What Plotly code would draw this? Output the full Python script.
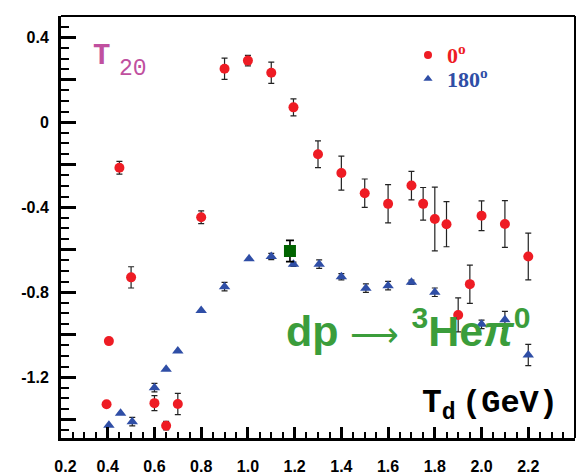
import plotly.graph_objects as go

# ---- data ----
red_x = [0.395, 0.405, 0.45, 0.50, 0.60, 0.65, 0.70, 0.80, 0.90, 1.00, 1.10, 1.195,
         1.30, 1.40, 1.50, 1.60, 1.70, 1.75, 1.80, 1.85, 1.90, 1.95, 2.00, 2.10, 2.20]
red_y = [-1.327, -1.03, -0.214, -0.73, -1.322, -1.428, -1.326, -0.447, 0.252, 0.29, 0.233, 0.07,
         -0.151, -0.239, -0.334, -0.384, -0.298, -0.384, -0.455, -0.48, -0.907, -0.762, -0.44, -0.479, -0.632]
red_err = [0.01, 0.005, 0.03, 0.05, 0.035, 0.02, 0.05, 0.03, 0.05, 0.025, 0.05, 0.04,
           0.063, 0.08, 0.067, 0.09, 0.067, 0.077, 0.15, 0.106, 0.08, 0.09, 0.07, 0.11, 0.11]

blue_x = [0.405, 0.455, 0.505, 0.60, 0.65, 0.70, 0.80, 0.90, 1.005, 1.10, 1.195,
          1.305, 1.40, 1.505, 1.60, 1.70, 1.80, 2.00, 2.10, 2.20]
blue_y = [-1.426, -1.37, -1.409, -1.249, -1.162, -1.076, -0.886, -0.774, -0.643, -0.632, -0.668,
          -0.668, -0.727, -0.781, -0.769, -0.753, -0.80, -0.951, -0.93, -1.095]
blue_err = [0, 0, 0.02, 0.02, 0, 0, 0, 0.02, 0, 0.015, 0.01,
            0.02, 0.015, 0.02, 0.02, 0.01, 0.02, 0.02, 0.04, 0.05]

green_x = [1.18]
green_y = [-0.606]
green_err = [0.05]

x_ticks = [0.2, 0.4, 0.6, 0.8, 1.0, 1.2, 1.4, 1.6, 1.8, 2.0, 2.2]
x_tick_text = ["\u00a0\u00a00.2", "0.4", "0.6", "0.8", "1.0", "1.2", "1.4", "1.6", "1.8", "2.0", "2.2"]
y_ticks = [-1.4, -1.2, -1.0, -0.8, -0.6, -0.4, -0.2, 0.0, 0.2, 0.4]
y_tick_text = ["", "-1.2", "", "-0.8", "", "-0.4", "", "0", "", "0.4"]

legend_labels = ["0<sup>o</sup>", "180<sup>o</sup>"]

RED = "#ee1c24"
BLUE = "#2f4ea6"
GREEN_MK = "#006400"
GREEN_TXT = "#3b9d3b"
MAGENTA = "#c0509f"
ERR = "#222222"

W, H = 577, 476
L, R, T, B = 61, 2, 16, 38

fig = go.Figure()

fig.add_trace(go.Scatter(
    x=blue_x, y=blue_y, mode="markers", showlegend=False,
    marker=dict(symbol="triangle-up", size=10, color=BLUE),
    error_y=dict(type="data", array=blue_err, color=ERR, thickness=1.2, width=3)))
fig.add_trace(go.Scatter(
    x=red_x, y=red_y, mode="markers", showlegend=False,
    marker=dict(symbol="circle", size=10, color=RED),
    error_y=dict(type="data", array=red_err, color=ERR, thickness=1.2, width=3)))
fig.add_trace(go.Scatter(
    x=green_x, y=green_y, mode="markers", showlegend=False,
    marker=dict(symbol="square", size=12, color=GREEN_MK),
    error_y=dict(type="data", array=green_err, color="black", thickness=1.6, width=4)))

# legend symbols (text drawn as annotations)
fig.add_trace(go.Scatter(
    x=[None], y=[None], mode="markers", name=" ",
    marker=dict(symbol="circle", size=8, color=RED)))
fig.add_trace(go.Scatter(
    x=[None], y=[None], mode="markers", name=" ",
    marker=dict(symbol="triangle-up", size=8, color=BLUE)))


def px_x(p):
    return (p - L) / (W - L - R)


def px_y(p):
    return (H - B - p) / (H - T - B)


tickfont = dict(family="Liberation Sans", size=16, color="black", weight="bold")

fig.update_layout(
    width=W, height=H,
    margin=dict(l=L, r=R, t=T, b=B, pad=0),
    paper_bgcolor="white", plot_bgcolor="white",
    showlegend=True,
    legend=dict(x=px_x(408), y=px_y(38), xanchor="left", yanchor="top",
                bgcolor="rgba(0,0,0,0)", borderwidth=0,
                font=dict(family="Liberation Serif", size=16),
                itemwidth=30, tracegroupgap=0),
    xaxis=dict(range=[0.2, 2.4], showgrid=False, zeroline=False,
               showline=True, linewidth=3, linecolor="black",
               tickmode="array", tickvals=x_ticks, ticktext=x_tick_text,
               ticks="inside", ticklen=11, tickwidth=2.5, tickcolor="black",
               ticklabelstandoff=12, tickfont=tickfont,
               minor=dict(tickmode="linear", tick0=0, dtick=0.05, ticks="inside",
                          ticklen=6, tickwidth=1.5, tickcolor="black")),
    yaxis=dict(range=[-1.486, 0.5], showgrid=False, zeroline=False,
               showline=True, linewidth=3, linecolor="black",
               tickmode="array", tickvals=y_ticks, ticktext=y_tick_text,
               ticks="inside", ticklen=15, tickwidth=2.5, tickcolor="black",
               ticklabelstandoff=6, tickfont=tickfont,
               minor=dict(tickmode="linear", tick0=0, dtick=0.05, ticks="inside",
                          ticklen=8, tickwidth=1.5, tickcolor="black")),
)

# top and right frame
fig.add_shape(type="line", xref="paper", yref="paper", x0=0, x1=1, y0=1, y1=1,
              line=dict(color="black", width=2))
fig.add_shape(type="line", xref="paper", yref="paper", x0=1, x1=1, y0=0, y1=1,
              line=dict(color="black", width=2))

# legend text
for lab, col, cy in zip(legend_labels, [RED, BLUE], [54, 78]):
    fig.add_annotation(xref="paper", yref="paper", x=px_x(445), y=px_y(cy),
                       xanchor="left", yanchor="middle", showarrow=False,
                       text=lab,
                       font=dict(family="Liberation Serif", size=22, color=col, weight="bold"))

# T20 title
fig.add_annotation(xref="paper", yref="paper", x=px_x(91), y=px_y(57),
                   xanchor="left", yanchor="middle", showarrow=False,
                   text="T",
                   font=dict(family="Liberation Mono", size=29, color=MAGENTA, weight="bold"))
fig.add_annotation(xref="paper", yref="paper", x=px_x(117), y=px_y(69.5),
                   xanchor="left", yanchor="middle", showarrow=False,
                   text="20",
                   font=dict(family="Liberation Mono", size=23, color=MAGENTA))

# reaction label
fig.add_annotation(xref="paper", yref="paper", x=px_x(284), y=px_y(328),
                   xanchor="left", yanchor="middle", showarrow=False,
                   text=("dp <span style=\"font-weight:normal;font-size:34px\">\u27f6</span> "
                         "<sup>3</sup>He<i>\u03c0</i><sup>0</sup>"),
                   font=dict(family="Liberation Sans", size=43, color=GREEN_TXT, weight="bold"))

# x-axis title
fig.add_annotation(xref="paper", yref="paper", x=px_x(560), y=px_y(403),
                   xanchor="right", yanchor="middle", showarrow=False,
                   text="(GeV)",
                   font=dict(family="Liberation Mono", size=32, color="black", weight="bold"))
fig.add_annotation(xref="paper", yref="paper", x=px_x(458), y=px_y(405),
                   xanchor="right", yanchor="middle", showarrow=False,
                   text="T<sub>d</sub>",
                   font=dict(family="Liberation Mono", size=33, color="black", weight="bold"))

fig.write_html("out.html")
